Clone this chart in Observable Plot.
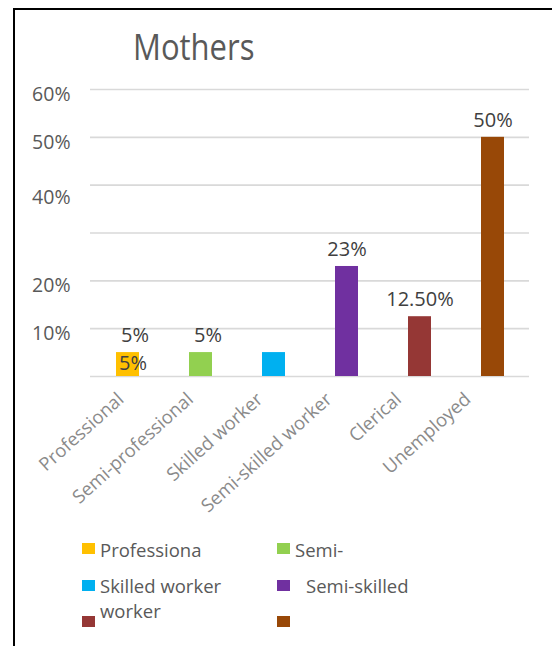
<!DOCTYPE html>
<html>
<head>
<meta charset="utf-8">
<script src="https://cdn.jsdelivr.net/npm/d3@7"></script>
<script src="https://cdn.jsdelivr.net/npm/@observablehq/plot@0.6"></script>
<style>
  html, body { margin: 0; padding: 0; background: #fff; }
  #wrap { position: relative; width: 552px; height: 646px; overflow: hidden; font-family: "Open Sans", sans-serif; }
  #frame { position: absolute; left: 12.5px; top: 7.5px; width: 600px; height: 700px; border-top: 2.6px solid #000; border-left: 2.6px solid #000; box-sizing: border-box; }
  #title { position: absolute; left: 133px; top: 29px; font-size: 31px; color: #595959; line-height: 1; transform: scaleY(1.15); transform-origin: left top; }
  #chart { position: absolute; left: 0; top: 0; }
  .sw { position: absolute; width: 12.5px; height: 11px; }
  .lt { position: absolute; font-size: 18.5px; color: #595959; line-height: 1; white-space: nowrap; }
</style>
</head>
<body>
<div id="wrap">
  <div id="frame"></div>
  <div id="chart"></div>
  <div id="title">Mothers</div>
</div>
<script>
const categories = ["Professional", "Semi-professional", "Skilled worker", "Semi-skilled worker", "Clerical", "Unemployed"];
const values = [0.05, 0.05, 0.05, 0.23, 0.125, 0.50];
const colors = ["#FFC000", "#92D050", "#00B0F0", "#7030A0", "#953735", "#984807"];
const valueLabels = ["5%", "5%", "", "23%", "12.50%", "50%"];
const innerLabels = ["5%", "", "", "", "", ""];
const yTickValues = [0.6, 0.5, 0.2, 0.1];
const yTickShifted = [0.4];
const gridValues = [0, 0.1, 0.2, 0.3, 0.4, 0.5, 0.6];
const legendLabels = ["Professiona", "Semi-", "Skilled worker", "Semi-skilled", "worker", ""];

const data = categories.map((c, i) => ({cat: c, value: values[i], color: colors[i], label: valueLabels[i], inner: innerLabels[i]}));
const pct = d3.format(".0%");

const xLabelMarks = categories.map((c, i) =>
  Plot.axisX([c], {tickRotate: -42, tickSize: 0, tickPadding: 20, dx: -7 - 3.6 * i, fontSize: 18.5, fill: "#8a8a8a", label: null})
);

const chart = Plot.plot({
  width: 552,
  height: 646,
  marginLeft: 90,
  marginRight: 23,
  marginTop: 89,
  marginBottom: 270,
  style: {fontFamily: "Open Sans", background: "transparent", overflow: "visible"},
  x: {domain: categories, paddingInner: 0.686, paddingOuter: 0.343, label: null},
  y: {domain: [0, 0.6], label: null},
  color: {type: "identity"},
  marks: [
    Plot.ruleY(gridValues, {stroke: "#d9d9d9", strokeWidth: 1.6}),
    Plot.barY(data, {x: "cat", y: "value", fill: "color"}),
    Plot.text(data.filter(d => d.label && d.value < 0.1), {x: "cat", y: "value", text: "label", dy: -17, dx: 7, fontSize: 20, fill: "#404040"}),
    Plot.text(data.filter(d => d.label && d.value >= 0.1), {x: "cat", y: "value", text: "label", dy: -17, fontSize: 20, fill: "#404040"}),
    Plot.text(data.filter(d => d.inner), {x: "cat", y: "value", text: "inner", dy: 11, dx: 5, fontSize: 20, fill: "#404040"}),
    Plot.axisY(yTickValues, {tickSize: 0, tickPadding: 20, tickFormat: pct, fontSize: 19.5, fill: "#595959", dy: 5, label: null}),
    Plot.axisY(yTickShifted, {tickSize: 0, tickPadding: 20, tickFormat: pct, fontSize: 19.5, fill: "#595959", dy: 13, label: null}),
    ...xLabelMarks
  ]
});
document.getElementById("chart").appendChild(chart);

// legend (HTML, below the plot area)
const wrap = document.getElementById("wrap");
const swX = [82, 277], swY = [543, 580, 616];
const txtX = [[100, 295], [100, 306], [100, 295]];
const txtY = [[541, 541], [577, 577], [602, 602]];
legendLabels.forEach((lab, i) => {
  const col = i % 2, row = Math.floor(i / 2);
  const sw = document.createElement("div");
  sw.className = "sw";
  sw.style.left = swX[col] + "px";
  sw.style.top = swY[row] + "px";
  sw.style.background = colors[i];
  wrap.appendChild(sw);
  if (lab) {
    const t = document.createElement("div");
    t.className = "lt";
    t.textContent = lab;
    t.style.left = txtX[row][col] + "px";
    t.style.top = txtY[row][col] + "px";
    wrap.appendChild(t);
  }
});
</script>
</body>
</html>
